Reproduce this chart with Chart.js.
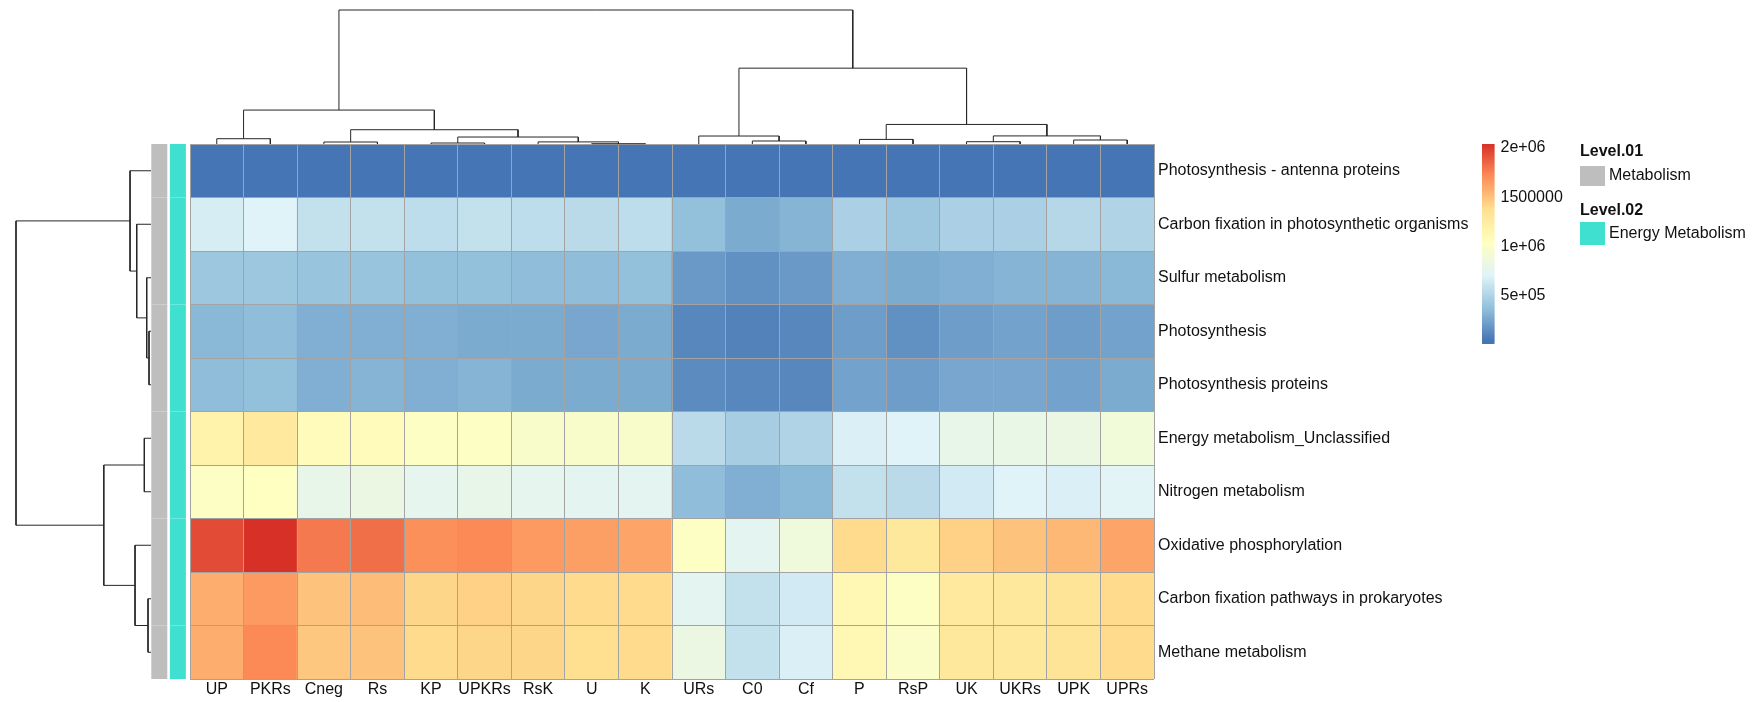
<!DOCTYPE html>
<html>
<head>
<meta charset="utf-8">
<script src="https://cdn.jsdelivr.net/npm/chart.js@4.4.1/dist/chart.umd.min.js"></script>
<style>
  html, body { margin: 0; padding: 0; background: #ffffff; }
  #wrap { position: relative; width: 1758px; height: 702px; overflow: hidden; background: #ffffff; }
  #wrap canvas { position: absolute; left: 0; top: 0; }
</style>
</head>
<body>
<div id="wrap">
  <canvas id="heat" width="1758" height="702"></canvas>
  <canvas id="annot" width="1758" height="702"></canvas>
  <canvas id="colDendro" width="1758" height="702"></canvas>
  <canvas id="rowDendro" width="1758" height="702"></canvas>
  <canvas id="colorKey" width="1758" height="702"></canvas>
</div>
<script>
// ---- samples (columns, in clustered order) ----
const sampleNames = ['UP', 'PKRs', 'Cneg', 'Rs', 'KP', 'UPKRs', 'RsK', 'U', 'K',
                     'URs', 'C0', 'Cf', 'P', 'RsP', 'UK', 'UKRs', 'UPK', 'UPRs'];

// ---- KEGG pathways (rows, in clustered order) ----
const pathwayNames = [
  'Photosynthesis - antenna proteins',
  'Carbon fixation in photosynthetic organisms',
  'Sulfur metabolism',
  'Photosynthesis',
  'Photosynthesis proteins',
  'Energy metabolism_Unclassified',
  'Nitrogen metabolism',
  'Oxidative phosphorylation',
  'Carbon fixation pathways in prokaryotes',
  'Methane metabolism'
];

// ---- abundance per pathway, one value per sample ----
const antennaProteins      = [21000, 19000, 16000, 17000, 14000, 15000, 13000, 12000, 13000, 10000, 9000, 11000, 18000, 16000, 15000, 14000, 17000, 16000];
const carbonFixPhoto       = [650000, 690000, 560000, 560000, 540000, 560000, 540000, 520000, 540000, 360000, 260000, 300000, 460000, 400000, 460000, 460000, 500000, 480000];
const sulfurMetabolism     = [400000, 400000, 380000, 380000, 360000, 360000, 340000, 350000, 360000, 180000, 140000, 180000, 280000, 260000, 280000, 300000, 300000, 320000];
const photosynthesis       = [320000, 340000, 280000, 280000, 280000, 260000, 260000, 240000, 260000, 100000, 80000, 110000, 200000, 140000, 200000, 220000, 200000, 220000];
const photoProteins        = [340000, 360000, 280000, 300000, 280000, 300000, 260000, 260000, 270000, 120000, 100000, 110000, 220000, 200000, 240000, 240000, 220000, 260000];
const energyUnclassified   = [1150000, 1250000, 1050000, 1050000, 1000000, 1000000, 950000, 960000, 960000, 520000, 440000, 480000, 660000, 680000, 780000, 800000, 820000, 880000];
const nitrogenMetabolism   = [990000, 1020000, 780000, 820000, 760000, 780000, 760000, 720000, 740000, 340000, 280000, 320000, 560000, 520000, 620000, 680000, 660000, 700000];
const oxidativePhos        = [1930000, 2040000, 1760000, 1800000, 1680000, 1700000, 1640000, 1620000, 1600000, 990000, 720000, 860000, 1370000, 1270000, 1430000, 1490000, 1520000, 1600000];
const carbonFixProkaryotes = [1570000, 1640000, 1490000, 1500000, 1410000, 1420000, 1410000, 1380000, 1390000, 720000, 560000, 620000, 1090000, 990000, 1250000, 1270000, 1310000, 1390000];
const methaneMetabolism    = [1570000, 1700000, 1470000, 1490000, 1390000, 1410000, 1400000, 1360000, 1370000, 820000, 560000, 660000, 1090000, 970000, 1270000, 1270000, 1310000, 1370000];

const pathwayValues = [antennaProteins, carbonFixPhoto, sulfurMetabolism, photosynthesis, photoProteins,
                       energyUnclassified, nitrogenMetabolism, oxidativePhos, carbonFixProkaryotes, methaneMetabolism];

// ---- row annotations ----
const level01 = ['Metabolism', 'Metabolism', 'Metabolism', 'Metabolism', 'Metabolism',
                 'Metabolism', 'Metabolism', 'Metabolism', 'Metabolism', 'Metabolism'];
const level02 = ['Energy Metabolism', 'Energy Metabolism', 'Energy Metabolism', 'Energy Metabolism', 'Energy Metabolism',
                 'Energy Metabolism', 'Energy Metabolism', 'Energy Metabolism', 'Energy Metabolism', 'Energy Metabolism'];
const level01Colors = { 'Metabolism': '#BEBEBE' };
const level02Colors = { 'Energy Metabolism': '#40E0D0' };

// ---- column clustering (hclust-style: leaf names or 1-based merge index) ----
const colMerges = [['U', 'K'], ['KP', 'UPKRs'], ['Cneg', 'Rs'], ['RsK', 1], ['UK', 'UKRs'], ['C0', 'Cf'],
                   ['UPK', 'UPRs'], ['P', 'RsP'], ['UP', 'PKRs'], [2, 4], ['URs', 6], [5, 7],
                   [3, 10], [8, 12], [9, 13], [11, 14], [15, 16]];
const colMergeHeights = [0.3, 1.0, 2.0, 2.1, 2.3, 3.0, 4.0, 4.6, 5.3, 7.0, 8.0, 8.1, 14.3, 19.6, 34.0, 76.0, 134.3];

// ---- row clustering ----
const rowMerges = [['Photosynthesis', 'Photosynthesis proteins'],
                   ['Carbon fixation pathways in prokaryotes', 'Methane metabolism'],
                   ['Sulfur metabolism', 1],
                   ['Energy metabolism_Unclassified', 'Nitrogen metabolism'],
                   ['Carbon fixation in photosynthetic organisms', 3],
                   ['Oxidative phosphorylation', 2],
                   ['Photosynthesis - antenna proteins', 5],
                   [4, 6], [7, 8]];
const rowMergeHeights = [2.0, 3.0, 4.3, 6.7, 14.3, 16.0, 21.0, 47.3, 135.3];

// ---- colour key ----
const paletteStops = ['#4575B4', '#91BFDB', '#E0F3F8', '#FFFFBF', '#FEE090', '#FC8D59', '#D73027'];
const keyTicks = [500000, 1000000, 1500000, 2000000];
const keyTickLabels = ['5e+05', '1e+06', '1500000', '2e+06'];

// ---------------------------------------------------------------
const W = 1758, H = 702;
const FONT = "'Liberation Sans', Arial, Helvetica, sans-serif";
const TEXT = '#111111';
const CELL_BORDER = '#A3A3A3';
const heat = { left: 190, right: 1154, top: 144, bottom: 679 };

function hexToRgb(h) { return [1, 3, 5].map(i => parseInt(h.slice(i, i + 2), 16)); }
const stopsRgb = paletteStops.map(hexToRgb);
function ramp(t) {
  const s = t * (stopsRgb.length - 1);
  const i = Math.min(Math.floor(s), stopsRgb.length - 2);
  const f = s - i;
  const c = stopsRgb[i].map((v, k) => Math.round(v + (stopsRgb[i + 1][k] - v) * f));
  return 'rgb(' + c.join(',') + ')';
}
const nColors = 100;
const palette = Array.from({ length: nColors }, (_, i) => ramp(i / (nColors - 1)));
const allValues = pathwayValues.flat();
const vMin = Math.min(...allValues), vMax = Math.max(...allValues);
function colorFor(v) {
  let i = Math.floor((v - vMin) / (vMax - vMin) * nColors);
  i = Math.max(0, Math.min(nColors - 1, i));
  return palette[i];
}

const common = {
  responsive: false, animation: false, events: [],
  plugins: { legend: { display: false }, tooltip: { enabled: false } }
};

// ---- heatmap cells (grid drawn above the cells as borders) ----
new Chart(document.getElementById('heat'), {
  type: 'bar',
  data: {
    labels: sampleNames,
    datasets: pathwayValues.map((vals, r) => ({
      label: pathwayNames[r],
      data: vals.map(() => [r, r + 1]),
      backgroundColor: vals.map(colorFor),
      borderWidth: 0,
      grouped: false,
      barPercentage: 1,
      categoryPercentage: 1
    }))
  },
  options: {
    ...common,
    layout: { padding: { left: heat.left, top: heat.top, right: 0, bottom: 0 } },
    scales: {
      x: {
        position: 'bottom',
        grid: { color: CELL_BORDER, lineWidth: 1, offset: true, drawTicks: false, z: 1 },
        border: { display: false },
        ticks: { color: TEXT, font: { family: FONT, size: 16 }, padding: 1, maxRotation: 0, minRotation: 0, autoSkip: false },
        afterFit: s => { s.height = H - heat.bottom; }
      },
      y: {
        min: 0, max: pathwayNames.length, reverse: true,
        grid: { color: CELL_BORDER, lineWidth: 1, drawTicks: false, z: 1 },
        border: { display: false },
        ticks: { display: false, stepSize: 1 },
        afterFit: s => { s.width = 0; }
      },
      rowLabels: {
        type: 'category', labels: pathwayNames, position: 'right', offset: true,
        grid: { display: false, drawTicks: false },
        border: { display: false },
        ticks: { color: TEXT, font: { family: FONT, size: 16 }, padding: 4, autoSkip: false },
        afterFit: s => { s.width = W - heat.right; }
      }
    }
  }
});

// ---- row annotation strips ----
new Chart(document.getElementById('annot'), {
  type: 'bar',
  data: {
    labels: ['Level.01', 'Level.02'],
    datasets: pathwayNames.map((name, r) => ({
      label: name,
      data: [[r, r + 1], [r, r + 1]],
      backgroundColor: [level01Colors[level01[r]], level02Colors[level02[r]]],
      borderWidth: 0,
      grouped: false,
      barPercentage: 0.86,
      categoryPercentage: 1
    }))
  },
  options: {
    ...common,
    layout: { padding: { left: 150, right: W - 187.2, top: heat.top, bottom: H - heat.bottom } },
    scales: {
      x: { display: false },
      y: { display: false, min: 0, max: pathwayNames.length, reverse: true }
    }
  }
});

// ---- dendrogram geometry from merge tables ----
function dendroSegments(leaves, merges, heights) {
  const nodes = [];
  const ref = m => typeof m === 'number' ? nodes[m - 1] : { p: leaves.indexOf(m), h: 0 };
  return merges.map((m, i) => {
    const a = ref(m[0]), b = ref(m[1]), h = heights[i];
    nodes.push({ p: (a.p + b.p) / 2, h: h });
    return [{ p: a.p, h: a.h }, { p: a.p, h: h }, { p: b.p, h: h }, { p: b.p, h: b.h }];
  });
}
const lineStyle = { showLine: true, pointRadius: 0, borderColor: '#262626', borderWidth: 1, tension: 0, fill: false, clip: false };

new Chart(document.getElementById('colDendro'), {
  type: 'scatter',
  data: {
    datasets: dendroSegments(sampleNames, colMerges, colMergeHeights).map(seg => ({
      ...lineStyle, data: seg.map(q => ({ x: q.p, y: q.h }))
    }))
  },
  options: {
    ...common,
    layout: { padding: { left: heat.left, right: W - heat.right, top: 10, bottom: H - heat.top } },
    scales: {
      x: { display: false, min: -0.5, max: sampleNames.length - 0.5 },
      y: { display: false, min: 0, max: Math.max(...colMergeHeights) }
    }
  }
});

new Chart(document.getElementById('rowDendro'), {
  type: 'scatter',
  data: {
    datasets: dendroSegments(pathwayNames, rowMerges, rowMergeHeights).map(seg => ({
      ...lineStyle, data: seg.map(q => ({ x: q.h, y: q.p }))
    }))
  },
  options: {
    ...common,
    layout: { padding: { left: 16, right: W - 151, top: heat.top, bottom: H - heat.bottom } },
    scales: {
      x: { display: false, min: 0, max: Math.max(...rowMergeHeights), reverse: true },
      y: { display: false, min: -0.5, max: pathwayNames.length - 0.5, reverse: true }
    }
  }
});

// ---- colour key and annotation legend ----
const annotationLegend = {
  id: 'annotationLegend',
  afterDraw(chart) {
    const ctx = chart.ctx;
    ctx.save();
    ctx.textBaseline = 'middle';
    ctx.textAlign = 'left';
    ctx.fillStyle = TEXT;
    ctx.font = 'bold 16px ' + FONT;
    ctx.fillText('Level.01', 1580, 152);
    ctx.fillText('Level.02', 1580, 211);
    ctx.fillStyle = level01Colors[level01[0]];
    ctx.fillRect(1580, 166, 25, 20);
    ctx.fillStyle = level02Colors[level02[0]];
    ctx.fillRect(1580, 222, 25, 23);
    ctx.fillStyle = TEXT;
    ctx.font = '16px ' + FONT;
    ctx.fillText(level01[0], 1609, 176);
    ctx.fillText(level02[0], 1609, 234);
    ctx.restore();
  }
};

const keyStep = (vMax - vMin) / nColors;
new Chart(document.getElementById('colorKey'), {
  type: 'bar',
  data: {
    labels: [''],
    datasets: palette.map((c, i) => ({
      data: [[vMin + i * keyStep, Math.min(vMax, vMin + (i + 1.6) * keyStep)]],
      backgroundColor: c,
      borderWidth: 0,
      grouped: false,
      barPercentage: 1,
      categoryPercentage: 1
    }))
  },
  options: {
    ...common,
    layout: { padding: { left: 1482, right: 0, top: 144, bottom: H - 344 } },
    scales: {
      x: { display: false },
      y: {
        position: 'right', min: vMin, max: vMax,
        grid: { display: false, drawTicks: false },
        border: { display: false },
        afterBuildTicks: s => { s.ticks = keyTicks.map(v => ({ value: v })); },
        ticks: {
          color: TEXT, font: { family: FONT, size: 16 }, padding: 6,
          callback: v => keyTickLabels[keyTicks.indexOf(v)]
        },
        afterFit: s => { s.width = W - 1494.5; }
      }
    }
  },
  plugins: [annotationLegend]
});
</script>
</body>
</html>
